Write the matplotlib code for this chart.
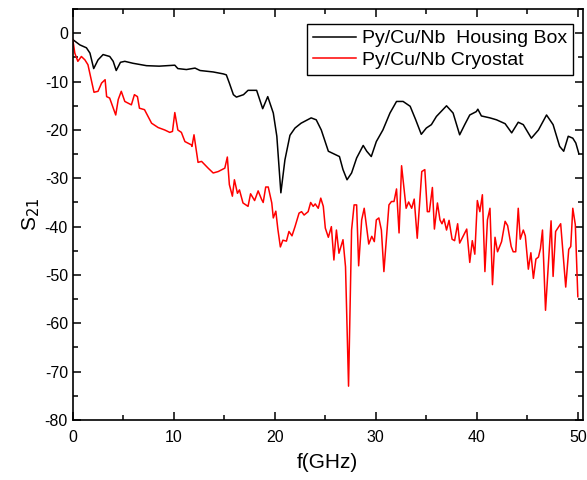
import numpy as np
import matplotlib.pyplot as plt
from matplotlib.ticker import MultipleLocator

# Py/Cu/Nb housing box (black)
f_box = [0, 0.7, 1.35, 1.7, 2.07, 2.5, 3.0, 3.66, 4.0, 4.3, 4.72, 5.15, 5.95,
         7.3, 8.55, 10.1, 10.4, 11.25, 12.1, 12.6, 13.9, 14.9, 15.2, 15.5,
         15.9, 16.2, 16.9, 17.35, 18.2, 18.8, 19.3, 19.85, 20.2, 20.6, 21.0,
         21.5, 22.0, 22.6, 23.6, 24.1, 24.6, 25.3, 25.8, 26.4, 26.75, 27.15,
         27.6, 28.1, 28.75, 29.1, 29.55, 30.05, 30.7, 31.4, 32.05, 32.7, 33.4,
         33.95, 34.5, 35.0, 35.5, 36.0, 37.0, 37.65, 38.3, 38.8, 39.3, 39.95,
         40.1, 40.45, 41.3, 41.95, 42.8, 43.45, 44.1, 44.6, 45.4, 46.1, 46.9,
         47.55, 48.2, 48.6, 49.05, 49.5, 49.8, 50.1]
s21_box = [-1.3, -2.4, -3.0, -4.1, -7.3, -5.5, -4.4, -4.8, -5.8, -7.7, -6.0,
           -5.8, -6.2, -6.7, -6.8, -6.6, -7.3, -7.5, -7.2, -7.7, -8.0, -8.4,
           -8.6, -10.3, -12.7, -13.2, -12.7, -11.8, -11.8, -15.6, -13.1, -16.5,
           -21.3, -33.0, -26.2, -21.1, -19.6, -18.6, -17.5, -17.9, -20.0, -24.4,
           -24.9, -25.5, -28.2, -30.3, -28.9, -25.8, -23.2, -24.4, -25.5, -22.4,
           -20.0, -16.5, -14.1, -14.1, -15.1, -17.9, -20.9, -19.6, -18.9, -17.2,
           -15.0, -16.5, -21.0, -18.9, -16.9, -16.2, -15.7, -17.1, -17.5, -17.9,
           -18.7, -20.6, -18.4, -18.9, -21.7, -20.0, -16.9, -18.9, -23.4, -24.4,
           -21.3, -21.7, -22.7, -24.9]

# Py/Cu/Nb cryostat (red)
f_cryo = [0, 0.2, 0.5, 0.85, 1.2, 1.5, 1.75, 2.1, 2.5, 2.85, 3.2, 3.35, 3.65,
          4.25, 4.5, 4.8, 5.15, 5.8, 6.1, 6.4, 6.6, 7.1, 7.8, 8.45, 9.1, 9.6,
          9.87, 10.1, 10.4, 10.75, 11.1, 11.75, 11.8, 12.0, 12.4, 12.75, 13.4,
          13.9, 14.4, 15.05, 15.3, 15.5, 15.8, 16.0, 16.3, 16.5, 16.85, 17.35,
          17.6, 18.0, 18.35, 18.7, 18.85, 19.1, 19.35, 19.7, 19.85, 20.1, 20.3,
          20.55, 20.8, 21.15, 21.4, 21.7, 22.0, 22.4, 22.65, 22.9, 23.3, 23.55,
          23.8, 24.0, 24.3, 24.55, 24.8, 25.0, 25.3, 25.6, 25.85, 26.1, 26.35,
          26.75, 27.0, 27.3, 27.6, 27.85, 28.1, 28.3, 28.6, 28.85, 29.3, 29.6,
          29.85, 30.05, 30.3, 30.55, 30.8, 31.3, 31.55, 31.8, 32.05, 32.3,
          32.55, 33.0, 33.25, 33.55, 33.8, 34.1, 34.55, 34.85, 35.1, 35.3,
          35.6, 35.8, 36.1, 36.35, 36.55, 36.75, 37.0, 37.25, 37.55, 37.8,
          38.1, 38.3, 39.0, 39.3, 39.55, 39.8, 40.05, 40.3, 40.55, 40.8, 41.05,
          41.3, 41.55, 41.8, 42.05, 42.45, 42.8, 43.05, 43.4, 43.6, 43.85,
          44.1, 44.3, 44.6, 44.8, 45.1, 45.35, 45.6, 45.85, 46.1, 46.3, 46.5,
          46.8, 47.35, 47.55, 47.8, 48.3, 48.8, 49.1, 49.3, 49.5, 49.75, 50.0]
s21_cryo = [-1.3, -4.1, -5.8, -4.8, -5.5, -6.5, -8.9, -12.2, -12.0, -10.3,
            -9.6, -13.1, -13.4, -16.9, -13.7, -12.0, -14.1, -14.8, -12.7,
            -13.1, -15.5, -15.8, -18.6, -19.5, -20.0, -20.5, -20.3, -16.4,
            -20.0, -20.5, -22.4, -23.1, -23.4, -21.0, -26.7, -26.5, -27.9,
            -28.9, -28.6, -27.9, -25.6, -31.3, -33.7, -30.3, -33.1, -32.4,
            -35.1, -35.8, -33.2, -34.6, -32.6, -34.4, -35.0, -31.8, -31.8,
            -35.1, -38.2, -36.8, -40.5, -44.2, -42.8, -43.0, -41.0, -41.9,
            -40.0, -37.2, -36.9, -37.6, -36.9, -35.0, -35.8, -35.3, -36.2,
            -34.1, -35.8, -40.3, -42.2, -40.0, -46.9, -40.7, -45.5, -42.7,
            -48.3, -73.0, -40.7, -35.5, -35.5, -48.1, -38.6, -36.2, -43.6,
            -42.0, -43.1, -38.6, -38.2, -40.7, -49.3, -35.5, -34.8, -34.8,
            -32.2, -41.3, -27.4, -36.2, -34.9, -36.2, -34.3, -42.4, -28.6,
            -28.2, -36.9, -36.9, -31.9, -40.5, -35.1, -38.6, -39.4, -38.4,
            -40.7, -38.7, -42.6, -42.9, -39.4, -43.4, -40.5, -47.4, -42.9,
            -45.7, -34.6, -36.9, -33.4, -49.3, -38.6, -36.2, -52.0, -42.2,
            -45.2, -43.1, -38.9, -39.8, -44.1, -45.2, -45.2, -36.2, -42.6,
            -40.7, -41.9, -48.8, -45.4, -50.7, -46.7, -46.3, -44.5, -40.7,
            -57.3, -38.8, -50.3, -41.0, -39.4, -52.5, -44.7, -44.1, -36.2,
            -39.6, -54.5]

plt.rcParams['font.family'] = ['Liberation Sans', 'DejaVu Sans']
plt.rcParams['axes.unicode_minus'] = False

fig = plt.figure(figsize=(5.87, 4.8), dpi=100)
ax = fig.add_axes([0.124, 0.125, 0.869, 0.856])

ax.plot(f_box, s21_box, color='black', lw=1.1, label='Py/Cu/Nb  Housing Box')
ax.plot(f_cryo, s21_cryo, color='red', lw=1.1, label='Py/Cu/Nb Cryostat')

ax.set_xlim(0, 50.5)
ax.set_ylim(-80, 5)
ax.xaxis.set_major_locator(MultipleLocator(10))
ax.xaxis.set_minor_locator(MultipleLocator(5))
ax.yaxis.set_major_locator(MultipleLocator(10))
ax.yaxis.set_minor_locator(MultipleLocator(5))
ax.tick_params(which='both', direction='in', top=True, right=True,
               width=1.1, labelsize=11.5)
ax.tick_params(which='major', length=6)
ax.tick_params(which='minor', length=3.5)
ax.tick_params(axis='x', pad=7)
for sp in ax.spines.values():
	sp.set_linewidth(1.2)

ax.set_xlabel('f(GHz)', fontsize=15, labelpad=6)
ax.set_ylabel('S$_{21}$', fontsize=15, labelpad=2)

leg = ax.legend(loc='upper right', bbox_to_anchor=(0.98, 0.964),
                borderaxespad=0, fontsize=14, fancybox=False,
                handlelength=2.2, handletextpad=0.3, borderpad=0.3,
                labelspacing=0.2, framealpha=1)
leg.get_frame().set_edgecolor('black')
leg.get_frame().set_linewidth(1.0)

fig.savefig('out.png', dpi=100)
